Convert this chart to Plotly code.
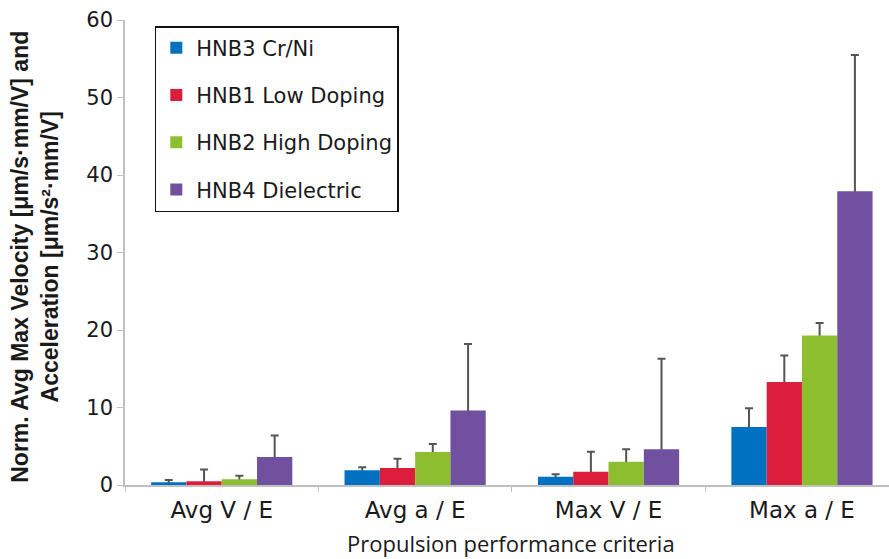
import plotly.graph_objects as go

categories = ["Avg V / E", "Avg a / E", "Max V / E", "Max a / E"]
series_names = ["HNB3 Cr/Ni", "HNB1 Low Doping", "HNB2 High Doping", "HNB4 Dielectric"]
hnb3 = [0.35, 1.9, 1.05, 7.5]
hnb1 = [0.5, 2.2, 1.7, 13.3]
hnb2 = [0.75, 4.25, 3.0, 19.3]
hnb4 = [3.6, 9.6, 4.6, 37.9]
hnb3_err = [0.3, 0.4, 0.35, 2.4]
hnb1_err = [1.5, 1.2, 2.6, 3.4]
hnb2_err = [0.45, 1.05, 1.6, 1.6]
hnb4_err = [2.8, 8.6, 11.7, 17.6]
colors = ["#0070C0", "#DC1E3C", "#8DBE30", "#7150A0"]

values = [hnb3, hnb1, hnb2, hnb4]
errors = [hnb3_err, hnb1_err, hnb2_err, hnb4_err]

font_family = "DejaVu Sans, Verdana, sans-serif"

fig = go.Figure()
# error bars first (transparent bars), so the coloured bars drawn later hide their lower part
for i, (name, vals, errs) in enumerate(zip(series_names, values, errors)):
    fig.add_trace(go.Bar(
        x=categories, y=vals, name=name, offsetgroup=str(i), showlegend=False,
        legendgroup=f"g{i}", hoverinfo="skip",
        marker=dict(color="rgba(0,0,0,0)", line=dict(width=0)),
        error_y=dict(type="data", array=errs, arrayminus=[v * 0.5 for v in vals],
                     symmetric=False, color="#555555", thickness=2, width=4),
    ))
for i, (name, vals, col) in enumerate(zip(series_names, values, colors)):
    fig.add_trace(go.Bar(
        x=categories, y=vals, name=name, offsetgroup=str(i), legendgroup=f"g{i}",
        marker=dict(color=col, line=dict(width=0)),
    ))

fig.update_layout(
    width=889, height=559,
    margin=dict(l=125, r=0, t=20, b=74),
    paper_bgcolor="white", plot_bgcolor="white",
    barmode="group", bargap=0.27, bargroupgap=0,
    font=dict(family=font_family, color="#222222", size=18),
    legend=dict(
        x=0.039, y=0.987, xanchor="left", yanchor="top",
        bordercolor="#111111", borderwidth=1.5, bgcolor="white",
        font=dict(size=21, color="#1a1a1a"),
        tracegroupgap=17, traceorder="grouped",
    ),
    showlegend=True,
)
fig.update_xaxes(
    range=[-0.5, 3.45], showline=True, linecolor="#C0C0C0", linewidth=1.5,
    ticks="outside", tickson="boundaries", ticklen=5, tickcolor="#C0C0C0",
    tickfont=dict(size=23, color="#1a1a1a"), ticklabelstandoff=4, showgrid=False,
)
fig.update_yaxes(
    range=[0, 60], dtick=10, showline=True, linecolor="#C0C0C0", linewidth=1.5,
    ticks="outside", ticklen=6, tickcolor="#C0C0C0", tickfont=dict(size=21, color="#1a1a1a"),
    showgrid=False, zeroline=False,
)
fig.add_annotation(
    text="Propulsion performance criteria",
    xref="paper", yref="paper", x=0.505, y=-0.088, xanchor="center", yanchor="top",
    showarrow=False,
    font=dict(size=22, family="Open Sans, sans-serif", color="#1a1a1a"),
)
fig.add_annotation(
    text="<b>Norm. Avg Max Velocity [μm/s·mm/V] and<br>Acceleration [μm/s²·mm/V]</b>",
    xref="paper", yref="paper", x=-0.117, y=0.49, xanchor="center", yanchor="middle",
    textangle=-90, showarrow=False,
    font=dict(size=23, family="Liberation Sans, Arial, sans-serif", color="#1a1a1a"),
)

fig.write_html("out.html")
